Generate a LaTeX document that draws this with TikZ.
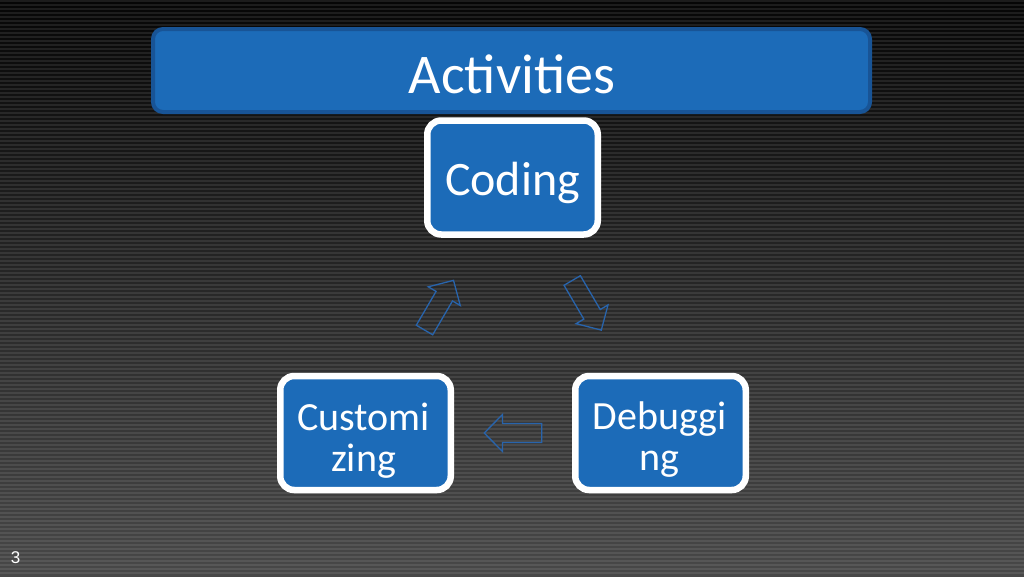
\documentclass[tikz,border=0pt]{standalone}
\usepackage{fontspec}
\setmainfont{Carlito}
\newfontfamily\numfont{Liberation Sans}
\definecolor{boxblue}{RGB}{28,107,184}
\definecolor{barborder}{RGB}{24,84,150}
\definecolor{arrowblue}{RGB}{40,100,172}
\definecolor{bgtop}{RGB}{6,6,6}
\definecolor{bgbot}{RGB}{72,72,72}
\tikzset{
  stepbox/.style={draw=white, line width=6.5pt, fill=boxblue, rounded corners=14pt,
    minimum width=170.5pt, minimum height=114pt, inner sep=0pt},
  titlebar/.style={draw=barborder, line width=4pt, fill=boxblue, rounded corners=10pt,
    minimum width=717pt, minimum height=83pt, inner sep=0pt},
  lbl/.style={text=white, anchor=base, align=center, inner sep=0pt},
  pics/blkarrow/.style={code={
    \draw[draw=arrowblue, line width=1.3pt, line join=miter]
      (0,-9.5) -- (39.2,-9.5) -- (39.2,-18.5) -- (57.5,0) -- (39.2,18.5) -- (39.2,9.5) -- (0,9.5) -- cycle;
  }}
}
\begin{document}
\begin{tikzpicture}[x=1pt,y=-1pt]
\useasboundingbox (0,0) rectangle (1024,576);
\shade[top color=bgtop, bottom color=bgbot] (0,0) rectangle (1024,576);
\foreach \k in {0,...,143}{
  \draw[white, opacity=0.09, line width=1.6pt] (0,\k*4+1) -- (1024,\k*4+1);
}
\node[titlebar] (bar) at (511.5,70.5) {};
\node[lbl, font=\fontsize{56}{60}\selectfont] (title) at (512,93) {Activities};
\node[stepbox] (coding) at (512.5,177.5) {};
\node[stepbox] (cust) at (365.5,433) {};
\node[stepbox] (debug) at (660.5,433) {};
\node[lbl, font=\fontsize{48}{52}\selectfont] (tcoding) at (512.5,195) {Coding};
\node[lbl, font=\fontsize{40}{41.5}\selectfont] (tcust) at (363.5,471.5) {Customi\\zing};
\node[lbl, font=\fontsize{40}{41.5}\selectfont] (tdebug) at (659.5,470.5) {Debuggi\\ng};
\coordinate (a1) at (424.5,330);
\coordinate (a2) at (572.2,280.5);
\coordinate (a3) at (541.7,433);
\pic[rotate=59.7] at (a1) {blkarrow};
\pic[rotate=-59.6] at (a2) {blkarrow};
\pic[rotate=180] at (a3) {blkarrow};
\node[text=white, font=\numfont\fontsize{17}{20}\selectfont, anchor=base, inner sep=0pt] (pnum) at (15.5,563) {3};
\end{tikzpicture}
\end{document}
